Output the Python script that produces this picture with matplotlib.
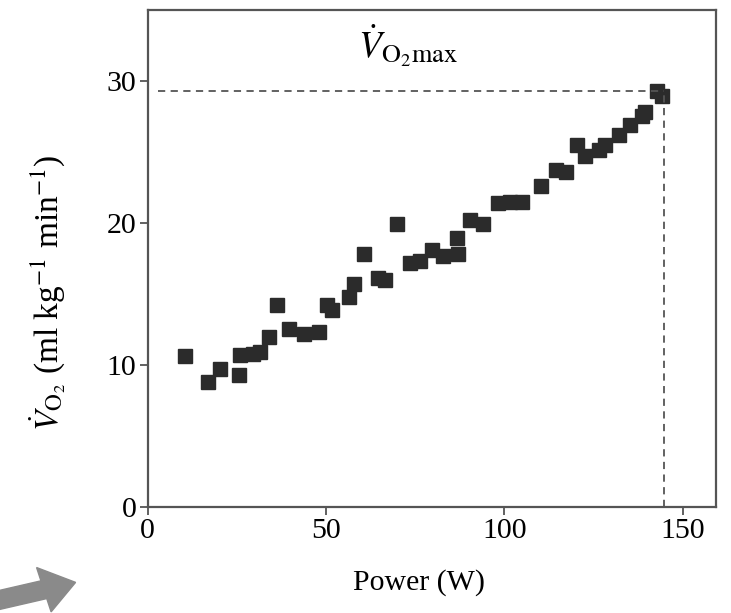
import matplotlib
matplotlib.use("Agg")
import matplotlib.pyplot as plt
from matplotlib.patches import FancyArrow

plt.rcParams['font.family'] = ['Liberation Serif', 'DejaVu Serif']
plt.rcParams['mathtext.fontset'] = 'stix'

# data
power = [10.5, 17.0, 20.3, 25.7, 25.9, 29.6, 31.5, 34.1, 36.2, 39.7,
         43.7, 47.9, 50.2, 51.6, 56.3, 57.7, 60.7, 64.7, 66.5, 69.8,
         73.6, 76.4, 79.6, 82.9, 86.7, 87.1, 90.4, 94.1, 98.3, 101.6,
         104.9, 110.3, 114.5, 117.3, 120.3, 122.6, 126.4, 128.2, 132.0, 135.2,
         138.5, 139.4, 142.7, 144.1]
vo2 = [10.6, 8.8, 9.7, 9.3, 10.7, 10.8, 10.9, 12.0, 14.2, 12.5,
       12.2, 12.3, 14.2, 13.9, 14.8, 15.7, 17.8, 16.1, 16.0, 19.9,
       17.2, 17.3, 18.1, 17.7, 18.9, 17.8, 20.2, 19.9, 21.4, 21.5,
       21.5, 22.6, 23.7, 23.6, 25.5, 24.7, 25.1, 25.5, 26.2, 26.9,
       27.5, 27.8, 29.3, 28.9]
vo2max = 29.25
w_max = 144.6

fig = plt.figure(figsize=(7.31, 6.13), dpi=100)
ax = fig.add_axes([0.202, 0.173, 0.777, 0.811])

ax.plot(power, vo2, 's', color='#2b2b2b', markersize=10.5, linestyle='none')
ax.plot([3, w_max], [vo2max, vo2max], color='#555555', linestyle=(0, (4, 3)), lw=1.3)
ax.plot([w_max, w_max], [0, vo2max], color='#555555', linestyle=(0, (4, 3)), lw=1.3)

ax.text(73, 32.5, r'$\dot{V}_{\mathrm{O_2max}}$', fontsize=27, ha='center', va='center')

ax.set_xlim(0, 159.2)
ax.set_ylim(0, 35)
ax.set_xticks([0, 50, 100, 150])
ax.set_yticks([0, 10, 20, 30])
ax.tick_params(direction='out', length=6, width=1.3, color='#555555', labelsize=21.5, pad=2)
for s in ax.spines.values():
    s.set_color('#555555')
    s.set_linewidth(1.6)

ax.set_xlabel('Power (W)', fontsize=21.5)
ax.set_ylabel(r'$\dot{V}_{\mathrm{O_2}}$ (ml kg$^{\mathrm{-1}}$ min$^{\mathrm{-1}}$)', fontsize=24)
ax.xaxis.set_label_coords(0.477, -0.125)
ax.yaxis.set_label_coords(-0.14, 0.43)

# gray arrow fragment at the lower left edge
fig.patches.append(FancyArrow(-0.02, 0.016, 0.08, 0.022, width=0.03, head_width=0.075,
                              head_length=0.045, color='#8a8a8a', transform=fig.transFigure))

fig.savefig('out.png', dpi=100)
